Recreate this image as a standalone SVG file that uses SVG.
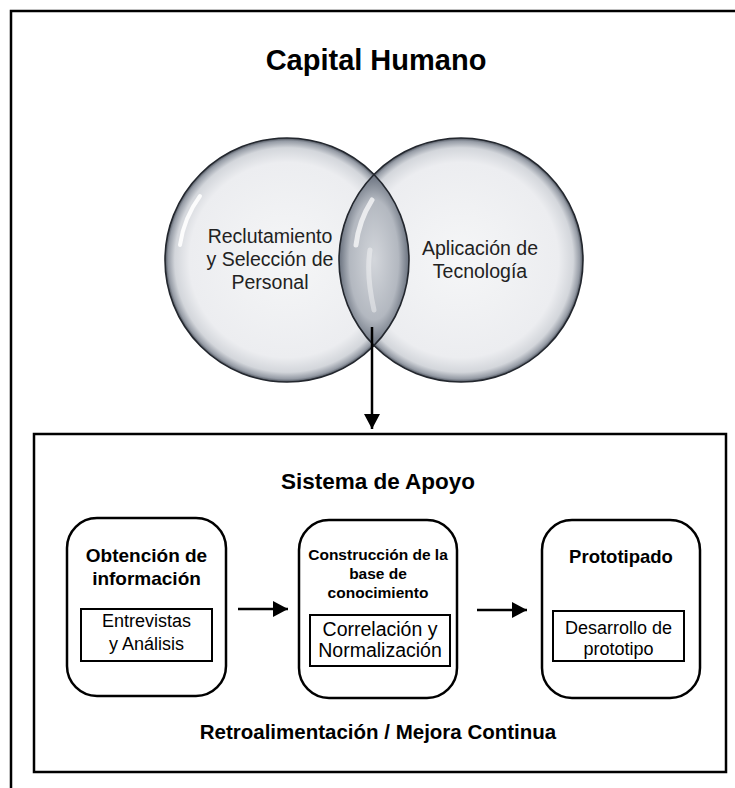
<svg xmlns="http://www.w3.org/2000/svg" width="735" height="788" viewBox="0 0 735 788">
<style>
.frame{fill:none;stroke:#000;stroke-width:2.5}
.box{fill:#fff;stroke:#000;stroke-width:2.5}
.sub{fill:#fff;stroke:#000;stroke-width:2}
.ttl{font-family:"Liberation Sans",Arial,sans-serif;font-weight:bold;fill:#000;text-anchor:middle}
.reg{font-family:"Liberation Sans",Arial,sans-serif;fill:#000;text-anchor:middle}
.ctx{font-family:"Liberation Sans",Arial,sans-serif;fill:#222;text-anchor:middle;font-size:19.5px}
.conn{stroke:#000;stroke-width:2.5;fill:none}
.ring{fill:none;stroke:#23272e;stroke-width:1.6}
.hl{fill:none;stroke:#fff;stroke-linecap:round}
</style>
<defs>
<radialGradient id="ball" cx="50%" cy="50%" r="50%">
<stop offset="0" stop-color="#f5f6f7"/>
<stop offset="0.8" stop-color="#ecedf0"/>
<stop offset="0.92" stop-color="#d3d6db"/>
<stop offset="0.975" stop-color="#959ba5"/>
<stop offset="1" stop-color="#4a505a"/>
</radialGradient>
<radialGradient id="lensG" cx="50%" cy="50%" r="50%">
<stop offset="0" stop-color="#d3d6db"/>
<stop offset="0.7" stop-color="#b3b8c0"/>
<stop offset="1" stop-color="#69717e"/>
</radialGradient>
<marker id="ah" markerUnits="userSpaceOnUse" markerWidth="16" markerHeight="18" refX="15" refY="8" orient="auto">
<path d="M0,0 L15,8 L0,16 Z" fill="#000"/>
</marker>
</defs>
<rect class="frame" x="11" y="11" width="740" height="800"/>
<text class="ttl" x="376" y="70" font-size="29">Capital Humano</text>
<g id="circle-left">
<circle cx="287" cy="260" r="122" fill="url(#ball)"/>
<path class="hl" d="M180,245 A108,108 0 0 1 200,196" stroke-width="4" opacity="0.9"/>
<text class="ctx" x="270" y="243">Reclutamiento</text>
<text class="ctx" x="270" y="266">y Selección de</text>
<text class="ctx" x="270" y="289">Personal</text>
</g>
<g id="circle-right">
<circle cx="461" cy="260" r="122" fill="url(#ball)"/>
<text class="ctx" x="480" y="255">Aplicación de</text>
<text class="ctx" x="480" y="278">Tecnología</text>
</g>
<g id="lens">
<path d="M374,174.5 A122,122 0 0 1 374,345.5 A122,122 0 0 1 374,174.5 Z" fill="url(#lensG)"/>
<path class="hl" d="M356,245 A108,108 0 0 1 372,200" stroke-width="5" opacity="0.7"/>
<path class="hl" d="M374,310 Q366,275 370,250" stroke-width="5" opacity="0.4"/>
<circle class="ring" cx="287" cy="260" r="122"/>
<circle class="ring" cx="461" cy="260" r="122"/>
</g>
<g id="sistema">
<rect class="frame" x="34" y="434" width="692" height="338"/>
<text class="ttl" x="378" y="489" font-size="22.5">Sistema de Apoyo</text>
<text class="ttl" x="378" y="739" font-size="20.5">Retroalimentación / Mejora Continua</text>
</g>
<g id="obtencion">
<rect class="box" x="67" y="518" width="159" height="178" rx="30"/>
<text class="ttl" x="146.5" y="562" font-size="19">Obtención de</text>
<text class="ttl" x="146.5" y="585" font-size="19">información</text>
<rect class="sub" x="81" y="609" width="131" height="52"/>
<text class="reg" x="146.5" y="627" font-size="18">Entrevistas</text>
<text class="reg" x="146.5" y="650" font-size="18">y Análisis</text>
</g>
<g id="construccion">
<rect class="box" x="299" y="520" width="158" height="178" rx="30"/>
<text class="ttl" x="378" y="560" font-size="15.5">Construcción de la</text>
<text class="ttl" x="378" y="579" font-size="15.5">base de</text>
<text class="ttl" x="378" y="598" font-size="15.5">conocimiento</text>
<rect class="sub" x="310" y="615" width="140" height="51"/>
<text class="reg" x="380" y="636" font-size="19.5">Correlación y</text>
<text class="reg" x="380" y="657" font-size="19.5">Normalización</text>
</g>
<g id="prototipado">
<rect class="box" x="542" y="520" width="158" height="178" rx="30"/>
<text class="ttl" x="621" y="563" font-size="18.5">Prototipado</text>
<rect class="sub" x="553" y="611" width="131" height="50"/>
<text class="reg" x="618.5" y="634" font-size="18">Desarrollo de</text>
<text class="reg" x="618.5" y="655" font-size="18">prototipo</text>
</g>
<g id="connectors">
<line class="conn" x1="372" y1="327" x2="372" y2="429" marker-end="url(#ah)"/>
<line class="conn" x1="238" y1="609" x2="288" y2="609" marker-end="url(#ah)"/>
<line class="conn" x1="477" y1="610" x2="527" y2="610" marker-end="url(#ah)"/>
</g>
</svg>
